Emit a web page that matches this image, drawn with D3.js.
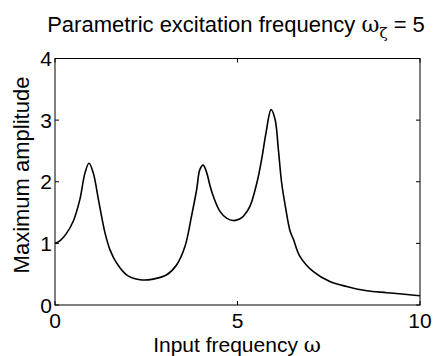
<!DOCTYPE html>
<html><head><meta charset="utf-8">
<script src="https://cdn.jsdelivr.net/npm/d3@7"></script>
<style>body{margin:0;background:#fff}svg{display:block}text{font-family:"Liberation Sans",Arial,sans-serif;fill:#000}</style>
</head><body>
<script>
const freq = [0,0.15,0.3,0.5,0.68,0.82,0.93,1.05,1.19,1.37,1.51,1.69,1.96,2.33,2.69,3.06,3.33,3.56,3.74,3.88,3.97,4.06,4.16,4.24,4.34,4.52,4.70,4.88,5.07,5.16,5.34,5.53,5.66,5.78,5.92,6.03,6.12,6.21,6.32,6.44,6.53,6.71,7.08,7.53,7.99,8.54,9.09,9.64,10];
const amp  = [1.00,1.05,1.15,1.36,1.71,2.14,2.30,2.14,1.71,1.17,0.89,0.68,0.49,0.41,0.42,0.49,0.65,0.95,1.44,1.87,2.20,2.27,2.14,1.95,1.76,1.52,1.41,1.37,1.40,1.44,1.60,1.98,2.36,2.79,3.17,3.01,2.52,1.98,1.57,1.20,1.07,0.79,0.54,0.38,0.30,0.23,0.20,0.17,0.15];
const xTicks = [0,5,10];
const yTicks = [0,1,2,3,4];
const titleText = "Parametric excitation frequency ";
const xLabel = "Input frequency ";
const yLabel = "Maximum amplitude";

const W=435,H=356, m={l:55,r:15,t:58.5,b:51};
const svg=d3.select("body").append("svg").attr("width",W).attr("height",H);
const x=d3.scaleLinear().domain([0,10]).range([m.l,W-m.r]);
const y=d3.scaleLinear().domain([0,4]).range([H-m.b,m.t]);
const fs=21, tl=4;

// box
svg.append("rect").attr("x",x(0)).attr("y",y(4)).attr("width",x(10)-x(0)).attr("height",y(0)-y(4))
  .attr("fill","none").attr("stroke","#000").attr("stroke-width",1);

// ticks (inward, mirrored)
const g=svg.append("g").attr("stroke","#000").attr("stroke-width",1);
xTicks.forEach(t=>{
  g.append("line").attr("x1",x(t)).attr("x2",x(t)).attr("y1",y(0)).attr("y2",y(0)-tl);
  g.append("line").attr("x1",x(t)).attr("x2",x(t)).attr("y1",y(4)).attr("y2",y(4)+tl);
  svg.append("text").attr("x",x(t)).attr("y",y(0)+22.5).attr("text-anchor","middle").attr("font-size",fs).text(t);
});
yTicks.forEach(t=>{
  g.append("line").attr("x1",x(0)).attr("x2",x(0)+tl).attr("y1",y(t)).attr("y2",y(t));
  g.append("line").attr("x1",x(10)).attr("x2",x(10)-tl).attr("y1",y(t)).attr("y2",y(t));
  svg.append("text").attr("x",x(0)-3).attr("y",y(t)+7.5).attr("text-anchor","end").attr("font-size",fs).text(t);
});

// curve
const line=d3.line().x((d,i)=>x(freq[i])).y((d,i)=>y(amp[i])).curve(d3.curveCatmullRom.alpha(0.5));
svg.append("path").attr("d",line(amp)).attr("fill","none").attr("stroke","#000").attr("stroke-width",1.6);

// title
const tt=svg.append("text").attr("x",236).attr("y",32).attr("text-anchor","middle").attr("font-size",22);
tt.append("tspan").text(titleText);
tt.append("tspan").attr("font-family","DejaVu Serif, serif").text("ω");
tt.append("tspan").attr("font-size",15).attr("dy",6).attr("font-family","DejaVu Serif, serif").text("ζ");
tt.append("tspan").attr("dy",-6).text(" = 5");

// x label
const xl=svg.append("text").attr("x",237).attr("y",351.5).attr("text-anchor","middle").attr("font-size",fs);
xl.append("tspan").text(xLabel);
xl.append("tspan").attr("font-family","DejaVu Serif, serif").text("ω");

// y label
svg.append("text").attr("transform",`translate(29,175) rotate(-90)`).attr("text-anchor","middle").attr("font-size",22).text(yLabel);
</script>
</body></html>
